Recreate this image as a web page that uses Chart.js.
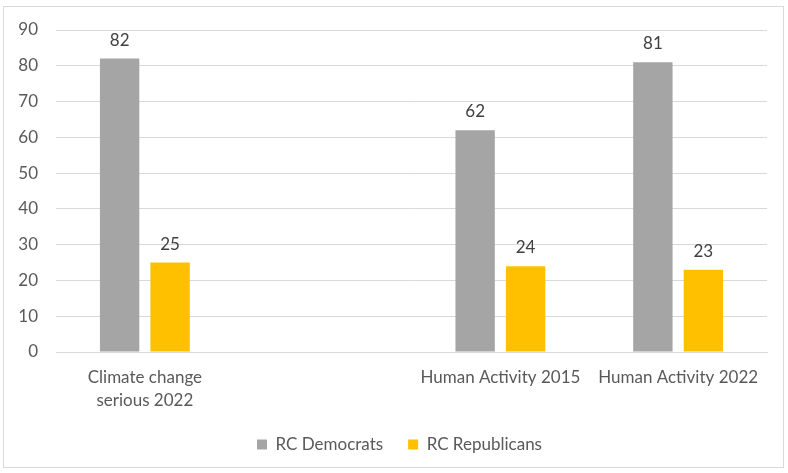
<!DOCTYPE html>
<html>
<head>
  <title>RC Democrats vs RC Republicans</title>
  <script src="https://cdn.jsdelivr.net/npm/chart.js@4"></script>
  <style>
    body { margin: 0; background: #fff; }
    #wrap { position: relative; width: 788px; height: 473px; }
    #frame { position: absolute; left: 3px; top: 6px; width: 781px; height: 462px; border: 1px solid #d9d9d9; box-sizing: border-box; }
    canvas { position: absolute; left: 0; top: 0; }
  </style>
</head>
<body>
  <div id="wrap">
    <div id="frame"></div>
    <canvas id="chart" width="788" height="473"></canvas>
  </div>

  <script>
    const categories = [['Climate change', 'serious 2022'], '', 'Human Activity 2015', 'Human Activity 2022'];
    const democrats = [82, null, 62, 81];
    const republicans = [25, null, 24, 23];
    const seriesNames = ['RC Democrats', 'RC Republicans'];

    const fontFamily = 'Lato, "Open Sans", sans-serif';
    const fontSize = 17;

    // draw the value above each bar
    const valueLabels = {
      id: 'valueLabels',
      afterDatasetsDraw(chart) {
        const ctx = chart.ctx;
        ctx.save();
        ctx.font = fontSize + 'px ' + fontFamily;
        ctx.fillStyle = '#404040';
        ctx.textAlign = 'center';
        ctx.textBaseline = 'bottom';
        chart.data.datasets.forEach((ds, i) => {
          chart.getDatasetMeta(i).data.forEach((bar, j) => {
            if (ds.data[j] == null) return;
            ctx.fillText(ds.data[j], bar.x, bar.y - 10);
          });
        });
        ctx.restore();
      }
    };

    // nudge the legend a bit to the right, like in the original
    const legendShift = {
      id: 'legendShift',
      afterLayout(chart) {
        if (!chart.legend) return;
        chart.legend.left += 16;
        chart.legend.right += 16;
      }
    };

    new Chart(document.getElementById('chart'), {
      type: 'bar',
      data: {
        labels: categories,
        datasets: [
          { label: seriesNames[0], data: democrats, backgroundColor: '#a5a5a5' },
          { label: seriesNames[1], data: republicans, backgroundColor: '#ffc000' }
        ]
      },
      options: {
        responsive: false,
        animation: false,
        categoryPercentage: 0.568,
        barPercentage: 0.78,
        layout: { padding: { top: 30, right: 21, left: 0, bottom: 10 } },
        scales: {
          x: {
            grid: { display: false },
            border: { color: '#d9d9d9', width: 1 },
            ticks: {
              color: '#595959',
              font: { family: fontFamily, size: fontSize, lineHeight: 1.36 },
              padding: 6,
              maxRotation: 0,
              autoSkip: false
            },
            afterFit(scale) { scale.height = 59; }
          },
          y: {
            min: 0,
            max: 90,
            ticks: {
              stepSize: 10,
              color: '#595959',
              font: { family: fontFamily, size: fontSize },
              padding: 18
            },
            grid: { color: '#d9d9d9', drawTicks: false },
            border: { display: false },
            afterFit(scale) { scale.width = 56; }
          }
        },
        plugins: {
          tooltip: { enabled: false },
          legend: {
            position: 'bottom',
            labels: {
              boxWidth: 10,
              boxHeight: 10,
              color: '#595959',
              font: { family: fontFamily, size: fontSize },
              padding: 25
            }
          }
        }
      },
      plugins: [valueLabels, legendShift]
    });
  </script>
</body>
</html>
